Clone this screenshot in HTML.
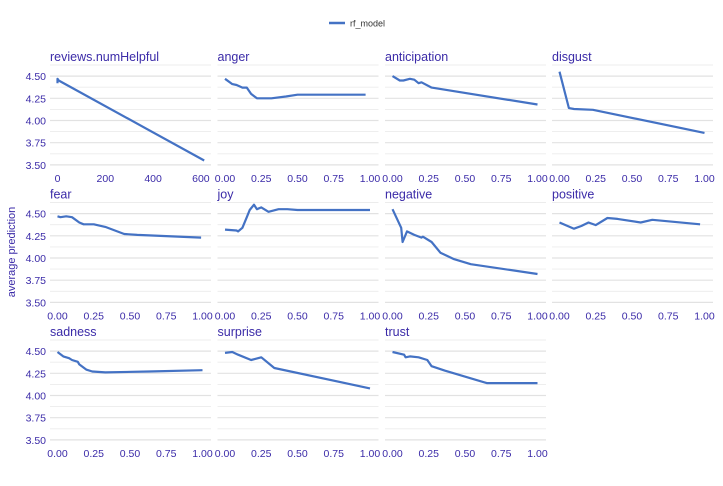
<!DOCTYPE html>
<html><head><meta charset="utf-8"><style>
body{margin:0;background:#fff;}
svg text{font-family:"Liberation Sans",sans-serif;}
</style></head><body>
<svg id="chart" width="723" height="481" xmlns="http://www.w3.org/2000/svg">
<g>
<line x1="329" y1="23" x2="345" y2="23" stroke="#4472c4" stroke-width="2.5"/>
<text x="350" y="26.5" font-size="9" fill="#333">rf_model</text>
</g>
<text transform="translate(15,252) rotate(-90)" text-anchor="middle" font-size="11" fill="#3b2ba8">average prediction</text>
<g id="panels"></g>
</svg>
<script>
const panelNames = ["reviews.numHelpful","anger","anticipation","disgust","fear","joy","negative","positive","sadness","surprise","trust"];
const xNumHelpful = [0,0,5,614];
const yNumHelpful = [4.42,4.47,4.45,3.55];
const xAnger = [0,0.05,0.08,0.12,0.15,0.18,0.22,0.24,0.32,0.42,0.5,0.97];
const yAnger = [4.47,4.41,4.40,4.37,4.37,4.30,4.25,4.25,4.25,4.27,4.29,4.29];
const xAnticipation = [0,0.05,0.075,0.12,0.15,0.18,0.2,0.27,1.0];
const yAnticipation = [4.50,4.45,4.45,4.47,4.46,4.42,4.43,4.37,4.18];
const xDisgust = [0,0.065,0.1,0.23,1.0];
const yDisgust = [4.55,4.14,4.13,4.12,3.86];
const xFear = [0,0.02,0.06,0.10,0.15,0.18,0.25,0.33,0.46,0.55,0.99];
const yFear = [4.47,4.46,4.47,4.46,4.40,4.38,4.38,4.35,4.27,4.26,4.23];
const xJoy = [0,0.08,0.09,0.12,0.15,0.17,0.2,0.22,0.25,0.3,0.37,0.43,0.5,1.0];
const yJoy = [4.32,4.31,4.30,4.34,4.46,4.54,4.60,4.55,4.57,4.52,4.55,4.55,4.54,4.54];
const xNegative = [0,0.06,0.07,0.1,0.15,0.2,0.21,0.27,0.33,0.42,0.54,1.0];
const yNegative = [4.55,4.34,4.18,4.30,4.26,4.23,4.24,4.18,4.06,3.99,3.93,3.82];
const xPositive = [0,0.1,0.15,0.2,0.25,0.33,0.4,0.56,0.64,0.97];
const yPositive = [4.40,4.33,4.36,4.40,4.37,4.45,4.44,4.40,4.43,4.38];
const xSadness = [0,0.04,0.08,0.1,0.14,0.15,0.2,0.24,0.33,0.63,1.0];
const ySadness = [4.49,4.44,4.42,4.40,4.38,4.35,4.29,4.27,4.26,4.27,4.285];
const xSurprise = [0,0.05,0.09,0.18,0.25,0.34,1.0];
const ySurprise = [4.48,4.49,4.46,4.40,4.43,4.31,4.08];
const xTrust = [0,0.08,0.09,0.12,0.18,0.24,0.27,0.36,0.65,1.0];
const yTrust = [4.49,4.46,4.43,4.44,4.43,4.40,4.33,4.28,4.14,4.14];
const yTicks = [3.5,3.75,4.0,4.25,4.5];
const yTickLabels = ["3.50","3.75","4.00","4.25","4.50"];
const xTicksUnit = [0,0.25,0.5,0.75,1.0];
const xTickLabelsUnit = ["0.00","0.25","0.50","0.75","1.00"];
const xTicksHelpful = [0,200,400,600];
const xTickLabelsHelpful = ["0","200","400","600"];

const seriesX = [xNumHelpful,xAnger,xAnticipation,xDisgust,xFear,xJoy,xNegative,xPositive,xSadness,xSurprise,xTrust];
const seriesY = [yNumHelpful,yAnger,yAnticipation,yDisgust,yFear,yJoy,yNegative,yPositive,ySadness,ySurprise,yTrust];

const NS="http://www.w3.org/2000/svg";
const root=document.getElementById('panels');
const lefts=[50,217.5,385,552], W=161, tops=[65,202.5,340], H=100;
const txtColor="#3b2ba8";
function mk(tag,attrs,parent){const e=document.createElementNS(NS,tag);for(const k in attrs)e.setAttribute(k,attrs[k]);parent.appendChild(e);return e;}

panelNames.forEach((name,i)=>{
  const col=i%4,row=Math.floor(i/4);
  const L=lefts[col],T=tops[row];
  const g=mk('g',{},root);
  
  
  const isH=i===0;
  const xs=v=> isH ? L+7.5+v*0.239 : L+7.5+v*145;
  const ys=v=> T+(4.625-v)*88.8;
  for(let v=3.5; v<=4.626; v+=0.125){
    const major=Math.abs((v*4)-Math.round(v*4))<1e-6;
    const gl=mk('line',{x1:L,x2:L+W,y1:ys(v),y2:ys(v),stroke:major?"#e2e2e2":"#ececec","stroke-width":major?1.2:0.9},g);
    
    
  }
  const title=mk('text',{x:L,y:T-4,"font-size":12.5,fill:txtColor},g);
  title.textContent=name;
  
  
  if(col===0){
    yTicks.forEach((v,k)=>{
      const t=mk('text',{x:46,y:ys(v)+4,"text-anchor":"end","font-size":10.5,fill:txtColor},g);
      t.textContent=yTickLabels[k];
      
      
    });
  }
  const tv=isH?xTicksHelpful:xTicksUnit, tl=isH?xTickLabelsHelpful:xTickLabelsUnit;
  tv.forEach((v,k)=>{
    const t=mk('text',{x:xs(v),y:T+117,"text-anchor":"middle","font-size":10.5,fill:txtColor},g);
    t.textContent=tl[k];
    
    
  });
  const X=seriesX[i],Y=seriesY[i];
  const pts=X.map((x,k)=>xs(x).toFixed(1)+','+ys(Y[k]).toFixed(1)).join(' ');
  const pl=mk('polyline',{points:pts,fill:"none",stroke:"#4472c4","stroke-width":2.2,"stroke-linejoin":"round"},g);
  
  
});
</script>
</body></html>
